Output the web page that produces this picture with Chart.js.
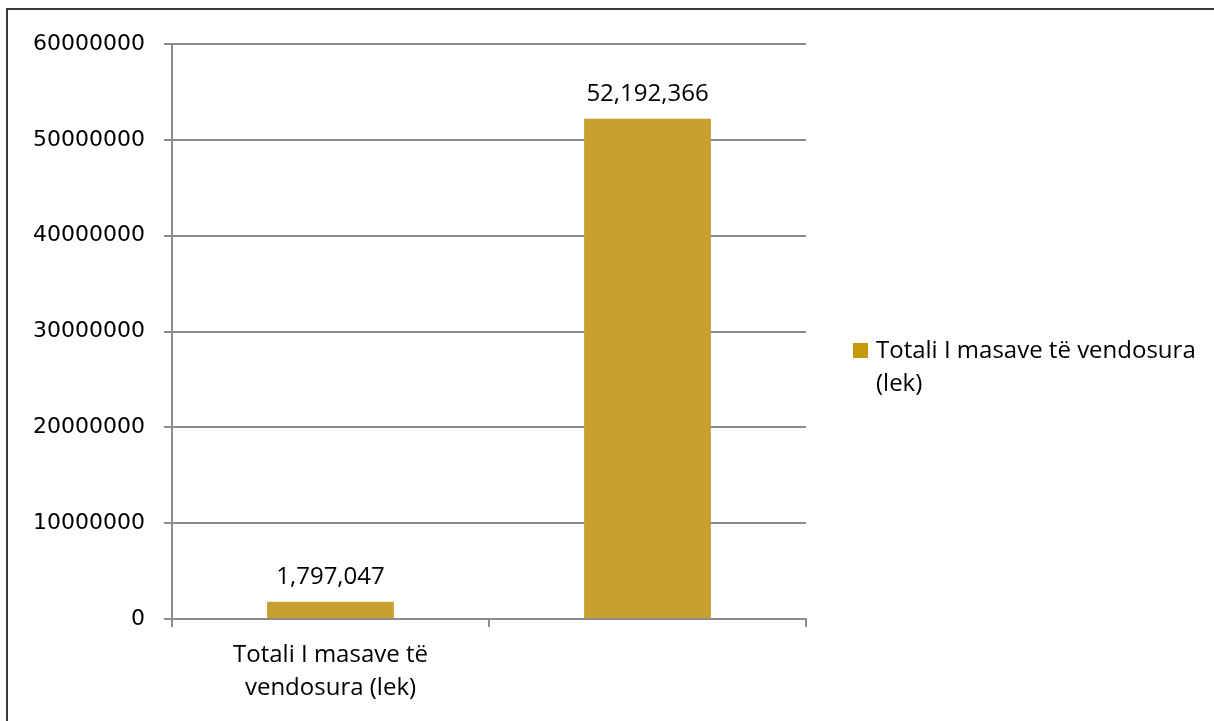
<!DOCTYPE html>
<html>
<head>
<meta charset="utf-8">
<script src="https://cdn.jsdelivr.net/npm/chart.js@4.4.1/dist/chart.umd.min.js"></script>
<style>
  html, body { margin: 0; padding: 0; background: #fff; overflow: hidden; }
  #wrap { position: relative; width: 1214px; height: 721px; }
  #frame { position: absolute; left: 6px; top: 8px; width: 1300px; height: 800px; border: 2px solid #3a3a3a; box-sizing: border-box; pointer-events: none; }
  canvas { position: absolute; left: 0; top: 0; }
</style>
</head>
<body>
<div id="wrap">
  <canvas id="grafico" width="1214" height="721"></canvas>
  <div id="frame"></div>
</div>
<script>
// datos
const categorias = [['Totali I masave të', 'vendosura (lek)'], ''];
const valores = [1797047, 52192366];
const serieNombre = ['Totali I masave të vendosura', '(lek)'];
const ticksY = [0, 10000000, 20000000, 30000000, 40000000, 50000000, 60000000];

const fuenteTexto = '"Open Sans", Lato, sans-serif';
const colorBarra = '#c7a030';

// etiquetas encima de las barras
const etiquetas = {
    id: 'etiquetas',
    afterDatasetsDraw(chart) {
        const { ctx } = chart;
        const meta = chart.getDatasetMeta(0);
        ctx.save();
        ctx.font = '24px ' + fuenteTexto;
        ctx.fillStyle = '#000';
        ctx.textAlign = 'center';
        ctx.textBaseline = 'middle';
        meta.data.forEach((bar, i) => {
            ctx.fillText(valores[i].toLocaleString('en-US'), bar.x, bar.y - 25);
        });
        ctx.restore();
    }
};

// leyenda a la derecha
const leyenda = {
    id: 'leyenda',
    afterDraw(chart) {
        const { ctx } = chart;
        ctx.save();
        ctx.fillStyle = '#c49a0a';
        ctx.fillRect(853, 343, 15, 15);
        ctx.font = '24px ' + fuenteTexto;
        ctx.fillStyle = '#000';
        ctx.textBaseline = 'middle';
        serieNombre.forEach((t, i) => ctx.fillText(t, 876, 351 + i * 33));
        ctx.restore();
    }
};

new Chart(document.getElementById('grafico'), {
    type: 'bar',
    data: {
        labels: categorias,
        datasets: [{
            label: serieNombre.join(' '),
            data: valores,
            backgroundColor: colorBarra,
            borderWidth: 0,
            categoryPercentage: 1,
            barPercentage: 0.4
        }]
    },
    options: {
        responsive: false,
        animation: false,
        layout: { padding: { left: 0, top: 44, right: 408, bottom: 0 } },
        plugins: { legend: { display: false }, tooltip: { enabled: false } },
        scales: {
            x: {
                grid: { drawOnChartArea: false, color: '#8c8c8c', lineWidth: 2, tickLength: 8, offset: true },
                border: { color: '#8c8c8c', width: 2 },
                ticks: { color: '#000', font: { family: fuenteTexto, size: 24, lineHeight: 1.375 }, padding: 12, maxRotation: 0 },
                afterFit(s) { s.height = 721 - 619; }
            },
            y: {
                min: 0, max: 60000000,
                afterBuildTicks(s) { s.ticks = ticksY.map(v => ({ value: v })); },
                grid: { color: '#8c8c8c', lineWidth: 2, tickLength: 8 },
                border: { color: '#8c8c8c', width: 2 },
                ticks: { color: '#000', font: { family: '"DejaVu Sans"', size: 22 }, padding: 19, callback: v => String(v) },
                afterFit(s) { s.width = 172; }
            }
        }
    },
    plugins: [etiquetas, leyenda]
});
</script>
</body>
</html>
